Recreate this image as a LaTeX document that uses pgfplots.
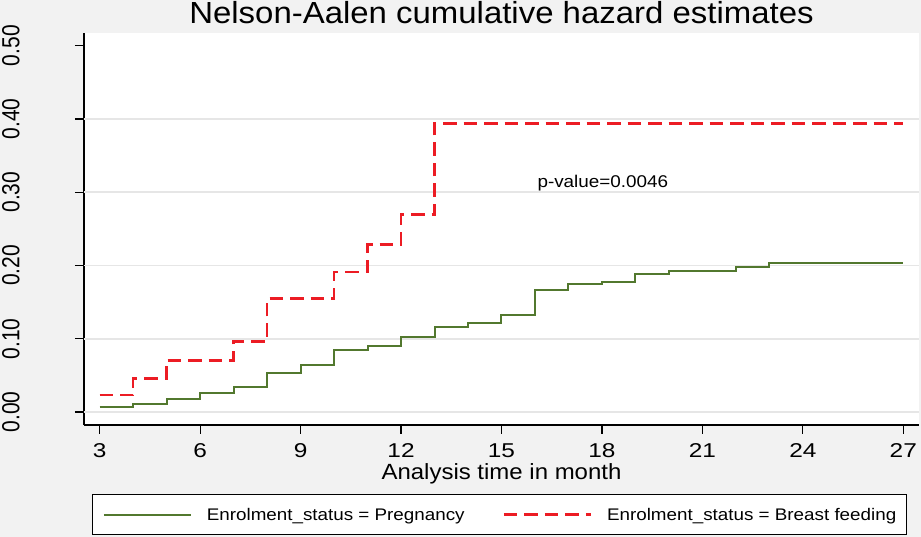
\documentclass[border=0pt]{standalone}
\usepackage{pgfplots}
\pgfplotsset{compat=1.18}
\usepackage{fontspec}
\setmainfont{Liberation Sans}
\newfontfamily\titlefont[FakeStretch=1.08]{Liberation Sans}
\newfontfamily\xtickfont[FakeStretch=1.22]{Liberation Sans}
\newfontfamily\ytickfont[FakeStretch=0.85]{Liberation Sans}
\newfontfamily\labfont[FakeStretch=1.09]{Liberation Sans}
\newfontfamily\legfont[FakeStretch=1.12]{Liberation Sans}
\newfontfamily\pfont[FakeStretch=1.11]{Liberation Sans}
\definecolor{bggray}{RGB}{242,242,242}
\definecolor{gridgray}{RGB}{230,230,230}
\definecolor{pgreen}{RGB}{82,120,46}
\definecolor{bfred}{RGB}{236,28,36}
\begin{document}
\begin{tikzpicture}
\fill[bggray] (0,0) rectangle (921bp,537bp);
\begin{axis}[
  at={(84bp,112bp)}, anchor=south west,
  scale only axis, width=835bp, height=392bp,
  xmin=2.531, xmax=27.47, ymin=-0.0177, ymax=0.5173,
  axis background/.style={fill=white},
  axis x line*=bottom, axis y line*=left,
  axis line style={black, line width=1.2bp},
  tick align=outside, major tick length=9bp,
  tick style={black, line width=1.2bp},
  xtick={3,6,9,12,15,18,21,24,27},
  ytick={0,0.1,0.2,0.3,0.4,0.5},
  extra y ticks={0,0.1,0.2,0.3,0.4},
  extra y tick labels={},
  extra y tick style={grid=major, major tick length=0pt},
  grid style={gridgray, line width=1.5bp},
  /pgf/number format/assume math mode=true,
  yticklabel={\pgfmathprintnumber[fixed, fixed zerofill, precision=2]{\tick}},
  xticklabel style={font=\xtickfont\fontsize{20bp}{24bp}\selectfont, anchor=base, inner sep=0pt, yshift=-23.7bp},
  yticklabel style={font=\ytickfont\fontsize{24.7bp}{28bp}\selectfont, xshift=-55.7bp, rotate=90, anchor=base, inner sep=0pt},
  title={Nelson-Aalen cumulative hazard estimates},
  title style={font=\titlefont\fontsize{30.5bp}{36bp}\selectfont, at={(axis description cs:0.5,1.0094)}, anchor=base, inner sep=0pt},
  xlabel={Analysis time in month},
  xlabel style={font=\labfont\fontsize{22bp}{26bp}\selectfont, at={(axis description cs:0.5,-0.1378)}, anchor=base, inner sep=0pt},
  legend columns=2,
  legend style={at={(axis description cs:0.00994,-0.176)}, anchor=north west,
    draw=black, line width=1.1bp, fill=white, inner xsep=10bp, inner ysep=14bp,
    font=\legfont\fontsize{16.8bp}{20bp}\selectfont,
    nodes={inner sep=0pt, text height=12bp, text depth=0bp},
    /tikz/every odd column/.append style={column sep=15bp},
    /tikz/every even column/.append style={column sep=38bp}},
  legend cell align=left,
  legend image code/.code={\draw[#1] (0bp,0bp) -- (87bp,0bp);},
]
\addplot[const plot, pgreen, line width=2bp] coordinates {
(3,0.0064) (4,0.0113) (5,0.0177) (6,0.0264) (7,0.0345) (8,0.0527) (9,0.0636) (10,0.0841) (11,0.0905) (12,0.1023) (13,0.1164) (14,0.121) (15,0.1327) (16,0.166) (17,0.1746) (18,0.1778) (19,0.1878) (20,0.192) (22,0.1978) (23,0.2037) (27,0.2037)
};
\addlegendentry{Enrolment\_status = Pregnancy}
\addplot[const plot, bfred, line width=2.4bp, dash pattern=on 13.5bp off 7bp] coordinates {
(3,0.0232) (4,0.046) (5,0.0705) (7,0.0964) (8,0.155) (10,0.1914) (11,0.2287) (12,0.2697) (13,0.394) (27,0.394)
};
\addlegendentry{Enrolment\_status = Breast feeding}
\node[anchor=base west, inner sep=0pt, font=\pfont\fontsize{17bp}{20bp}\selectfont] at (axis cs:16.07,0.3066) {p-value=0.0046};
\end{axis}
\pgfresetboundingbox
\path[use as bounding box] (0,0) rectangle (921bp,537bp);
\end{tikzpicture}
\end{document}
